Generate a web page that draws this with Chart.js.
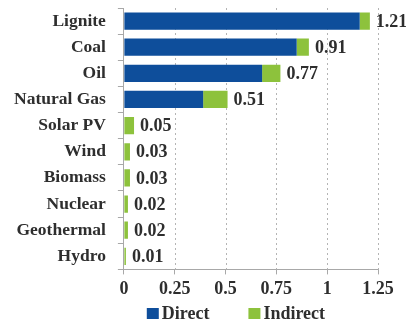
<!DOCTYPE html>
<html>
<head>
<meta charset="utf-8">
<script src="https://cdn.jsdelivr.net/npm/chart.js@4/dist/chart.umd.min.js"></script>
<style>
  html, body { margin: 0; padding: 0; background: #ffffff; }
  #wrap { width: 406px; height: 324px; }
</style>
</head>
<body>
<div id="wrap"><canvas id="c" width="406" height="324"></canvas></div>
<script>
// Life-cycle emissions by energy source (direct + indirect)
const sources  = ['Lignite', 'Coal', 'Oil', 'Natural Gas', 'Solar PV', 'Wind', 'Biomass', 'Nuclear', 'Geothermal', 'Hydro'];
const direct   = [1.16, 0.85, 0.68, 0.39, 0, 0, 0, 0, 0, 0];
const indirect = [0.05, 0.06, 0.09, 0.12, 0.05, 0.03, 0.03, 0.02, 0.02, 0.01];
const totals   = [1.21, 0.91, 0.77, 0.51, 0.05, 0.03, 0.03, 0.02, 0.02, 0.01];
const xTicks   = [0, 0.25, 0.5, 0.75, 1, 1.25];

const serif = "'Liberation Serif', 'DejaVu Serif', serif";
const textColor = '#2e2e2e';
const colors = { Direct: '#0e4e9b', Indirect: '#8dc23c' };

// Dotted vertical grid lines at each x tick, behind the bars
const dottedGrid = {
  id: 'dottedGrid',
  beforeDatasetsDraw(chart) {
    const { ctx, chartArea, scales: { x } } = chart;
    ctx.save();
    ctx.strokeStyle = '#b4b4b4';
    ctx.lineWidth = 1;
    ctx.setLineDash([2, 3]);
    xTicks.slice(1).forEach(v => {
      const px = Math.round(x.getPixelForValue(v)) + 0.5;
      ctx.beginPath();
      ctx.moveTo(px, chartArea.top);
      ctx.lineTo(px, chartArea.bottom);
      ctx.stroke();
    });
    ctx.restore();
  }
};

// Writes each total just past the end of its stacked bar
const totalLabels = {
  id: 'totalLabels',
  afterDatasetsDraw(chart) {
    const { ctx, scales: { x, y } } = chart;
    ctx.save();
    ctx.font = 'bold 18px ' + serif;
    ctx.fillStyle = textColor;
    ctx.textAlign = 'left';
    ctx.textBaseline = 'middle';
    totals.forEach((v, i) => {
      ctx.fillText(v.toFixed(2), x.getPixelForValue(v) + 6, y.getPixelForValue(i) + 1);
    });
    ctx.restore();
  }
};

// Legend row below the x axis, centred under the plot
const bottomLegend = {
  id: 'bottomLegend',
  afterDraw(chart) {
    const { ctx, chartArea } = chart;
    const items = chart.data.datasets.map(d => ({ text: d.label, color: d.backgroundColor }));
    const box = 12, gapText = 3, gapItem = 39;
    ctx.save();
    ctx.font = 'bold 18px ' + serif;
    ctx.textBaseline = 'middle';
    ctx.textAlign = 'left';
    const widths = items.map(it => box + gapText + ctx.measureText(it.text).width);
    const total = widths.reduce((a, b) => a + b, 0) + gapItem * (items.length - 1);
    let x = (chartArea.left + chartArea.right) / 2 - total / 2 - 15;
    const yMid = 314;
    items.forEach((it, i) => {
      ctx.fillStyle = it.color;
      ctx.fillRect(x, yMid - box / 2, box, box - 1);
      ctx.fillStyle = textColor;
      ctx.fillText(it.text, x + box + gapText, yMid);
      x += widths[i] + gapItem;
    });
    ctx.restore();
  }
};

new Chart(document.getElementById('c'), {
  type: 'bar',
  data: {
    labels: sources,
    datasets: [
      { label: 'Direct', data: direct, backgroundColor: colors.Direct, barPercentage: 0.66, categoryPercentage: 1 },
      { label: 'Indirect', data: indirect, backgroundColor: colors.Indirect, barPercentage: 0.66, categoryPercentage: 1 }
    ]
  },
  options: {
    indexAxis: 'y',
    responsive: false,
    animation: false,
    layout: { padding: { top: 8, right: 28, left: 2, bottom: 20 } },
    scales: {
      x: {
        stacked: true,
        min: 0,
        max: 1.25,
        afterBuildTicks(axis) { axis.ticks = xTicks.map(v => ({ value: v })); },
        ticks: {
          font: { family: serif, size: 18, weight: 'bold' },
          color: textColor,
          padding: 4,
          maxRotation: 0,
          callback: v => String(v)
        },
        grid: {
          drawOnChartArea: false,
          color: '#a8a8a8',
          tickColor: '#a8a8a8',
          tickLength: 5
        },
        border: { display: true, color: '#a8a8a8' }
      },
      y: {
        stacked: true,
        // category rows fill the full height; no half-label margin above the first row
        afterFit(scale) { scale.paddingTop = 0; scale.paddingBottom = 0; },
        ticks: {
          autoSkip: false,
          font: { family: serif, size: 17.5, weight: 'bold' },
          color: textColor,
          padding: 12
        },
        grid: {
          offset: true,
          drawOnChartArea: false,
          color: '#a8a8a8',
          tickLength: 6
        },
        border: { display: true, color: '#a8a8a8' }
      }
    },
    plugins: {
      legend: { display: false },
      tooltip: { enabled: false }
    }
  },
  plugins: [dottedGrid, totalLabels, bottomLegend]
});
</script>
</body>
</html>
